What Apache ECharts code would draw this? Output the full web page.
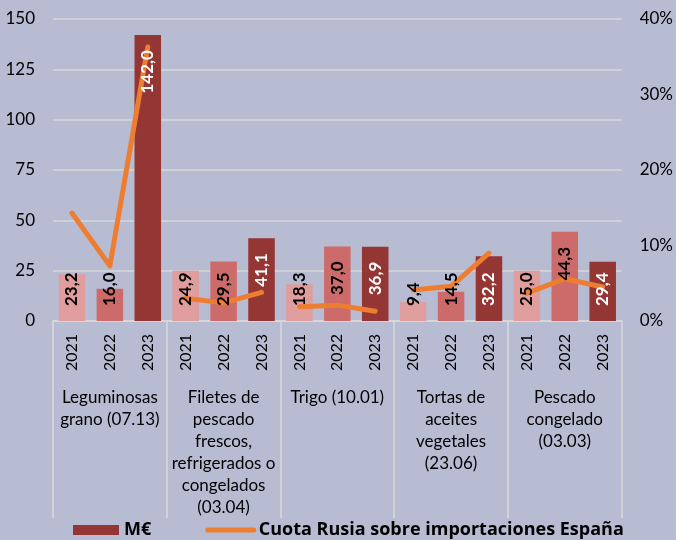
<!DOCTYPE html>
<html>
<head>
<meta charset="utf-8">
<script src="https://cdn.jsdelivr.net/npm/echarts@6/dist/echarts.min.js"></script>
<style>
    html, body { margin: 0; padding: 0; background: #b7bcd3; }
    #mainChart { width: 676px; height: 540px; }
</style>
</head>
<body>
<div id="mainChart"></div>
<script>
/** ----------------数据------------------------- */
var groupNames = [
    'Leguminosas\ngrano (07.13)',
    'Filetes de\npescado\nfrescos,\nrefrigerados o\ncongelados\n(03.04)',
    'Trigo (10.01)',
    'Tortas de\naceites\nvegetales\n(23.06)',
    'Pescado\ncongelado\n(03.03)'
];
var years = ['2021', '2022', '2023'];
// M€ por producto y año
var valoresME = [23.2, 16.0, 142.0, 24.9, 29.5, 41.1, 18.3, 37.0, 36.9, 9.4, 14.5, 32.2, 25.0, 44.3, 29.4];
// Cuota Rusia sobre importaciones España
var cuotaRusia = [0.143, 0.073, 0.363, 0.030, 0.024, 0.038, 0.019, 0.021, 0.013, 0.041, 0.046, 0.090, 0.037, 0.056, 0.045];
var leftTicks = [0, 150, 25];
var rightTicks = [0, 0.4, 0.1];

var lineName = 'Cuota Rusia sobre importaciones España';
var yearColors = ['#e09d9d', '#cd6b6a', '#943634'];
var lineColor = '#ed7d31';
var fontName = 'Lato, "Noto Sans", sans-serif';

window.onload = function () {
    initChart();
};

/** --------加载图表 ------ */
function initChart() {
    var chart = echarts.init(document.getElementById('mainChart'));

    var cats = [];
    var barData = [];
    var labelData = [];
    for (var g = 0; g < groupNames.length; g++) {
        for (var y = 0; y < years.length; y++) {
            var idx = g * years.length + y;
            cats.push(years[y]);
            barData.push({ value: valoresME[idx], itemStyle: { color: yearColors[y] } });
            // etiqueta dentro del extremo si cabe, si no desde la base
            var big = valoresME[idx] > 32.5;
            labelData.push({
                value: valoresME[idx],
                label: {
                    position: big ? 'insideTop' : 'insideBottom',
                    align: big ? 'right' : 'left',
                    color: y == 2 ? '#ffffff' : '#000000'
                }
            });
        }
    }

    var series = [
        {
            name: 'M€',
            type: 'bar',
            barWidth: '70%',
            z: 2,
            itemStyle: { color: yearColors[2] },
            data: barData
        }
    ];

    // una línea por grupo (cortada entre grupos), mismo nombre para la leyenda
    for (var k = 0; k < groupNames.length; k++) {
        var seg = [];
        for (var i = 0; i < cuotaRusia.length; i++) {
            seg.push(Math.floor(i / years.length) == k ? cuotaRusia[i] : '-');
        }
        series.push({
            name: lineName,
            type: 'line',
            yAxisIndex: 1,
            z: 3,
            symbol: 'none',
            color: lineColor,
            lineStyle: { color: lineColor, width: 5, cap: 'round', join: 'round' },
            data: seg
        });
    }

    series.push({
        // sólo etiquetas, encima de la línea
        name: 'etiquetas',
        type: 'bar',
        barWidth: '70%',
        barGap: '-100%',
        z: 4,
        silent: true,
        itemStyle: { color: 'rgba(0,0,0,0)' },
        label: {
            show: true,
            rotate: 90,
            distance: 15,
            verticalAlign: 'middle',
            fontSize: 17,
            fontWeight: 'bold',
            fontFamily: fontName,
            formatter: function (p) {
                return p.value.toFixed(1).replace('.', ',');
            }
        },
        data: labelData
    });

    var option = {
        backgroundColor: '#b7bcd3',
        textStyle: { fontFamily: fontName },
        animation: false,
        grid: { left: 53, right: 52, top: 19, bottom: 219 },
        legend: {
            left: 68,
            top: 516,
            itemWidth: 46,
            itemHeight: 10,
            itemGap: 54,
            textStyle: { fontSize: 18, fontWeight: 'bold', color: '#000', fontFamily: '"Open Sans", Lato, sans-serif' },
            data: [
                { name: 'M€', icon: 'rect' },
                {
                    name: lineName,
                    itemStyle: { color: 'rgba(0,0,0,0)', borderColor: 'rgba(0,0,0,0)', borderWidth: 0 },
                    lineStyle: { width: 5, cap: 'round', color: lineColor }
                }
            ]
        },
        xAxis: [
            {
                type: 'category',
                data: cats,
                axisLine: { lineStyle: { color: '#d9d9d9', width: 1.5 } },
                axisTick: { show: false },
                axisLabel: { interval: 0, rotate: 90, margin: 13, fontSize: 16, color: '#000', fontFamily: fontName }
            },
            {
                type: 'category',
                position: 'bottom',
                data: groupNames,
                axisLine: { show: false },
                axisTick: { show: true, length: 197, interval: 0, lineStyle: { color: '#d9d9d9', width: 1.5 } },
                axisLabel: { interval: 0, margin: 66, fontSize: 17, lineHeight: 22, color: '#000', fontFamily: fontName },
                splitLine: { show: false }
            }
        ],
        yAxis: [
            {
                type: 'value',
                min: leftTicks[0],
                max: leftTicks[1],
                interval: leftTicks[2],
                axisLine: { show: false },
                axisTick: { show: false },
                axisLabel: { margin: 18, fontSize: 17, color: '#000', fontFamily: fontName },
                splitLine: { lineStyle: { color: '#d9d9d9', width: 1.5 } }
            },
            {
                type: 'value',
                min: rightTicks[0],
                max: rightTicks[1],
                interval: rightTicks[2],
                axisLine: { show: false },
                axisTick: { show: false },
                splitLine: { show: false },
                axisLabel: {
                    margin: 18, fontSize: 17, color: '#000', fontFamily: fontName,
                    formatter: function (v) { return Math.round(v * 100) + '%'; }
                }
            }
        ],
        series: series
    };
    chart.setOption(option);

    window.onresize = function () {
        chart.resize();
    };
}
</script>
</body>
</html>
